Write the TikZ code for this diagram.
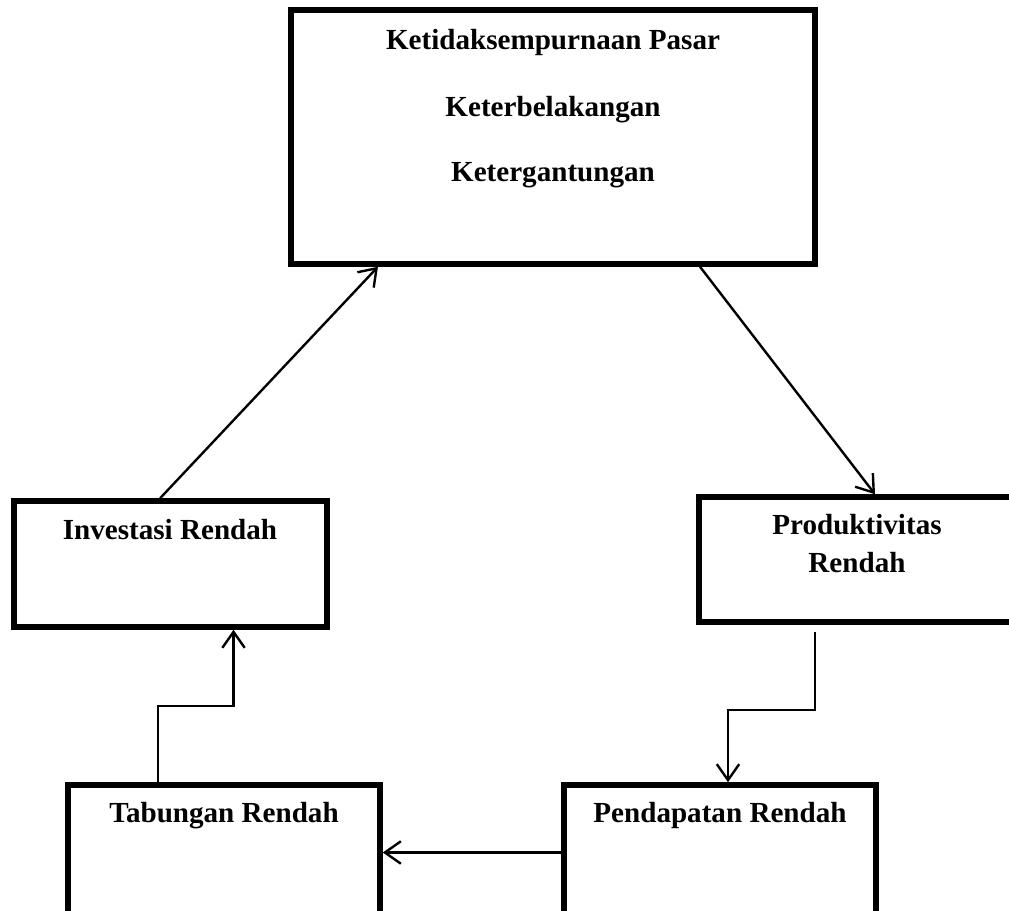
\documentclass[tikz,border=0pt]{standalone}
\usepackage{fontspec}
\setmainfont{Liberation Serif}
\usetikzlibrary{arrows.meta}
\begin{document}
\begin{tikzpicture}[x=0.025cm,y=-0.025cm,
    box/.style={draw,line width=3.9pt,rectangle,inner sep=0pt},
    txt/.style={font=\fontsize{20.7}{24}\selectfont\bfseries,anchor=base,inner sep=0pt},
    conn/.style={line width=1.7pt,-{Straight Barb[length=0.4cm,width=0.56cm]}}]
      \useasboundingbox (0,0) rectangle (1009,911);
      \node[box,minimum width=13.1cm,minimum height=6.35cm] (pasar) at (553,137) {};
      \node[box,minimum width=7.825cm,minimum height=3.15cm] (investasi) at (170.5,564) {};
      \node[box,minimum width=7.9cm,minimum height=3.125cm] (produktivitas) at (857,559.5) {};
      \node[box,minimum width=7.8cm,minimum height=3.375cm] (tabungan) at (224,852.5) {};
      \node[box,minimum width=7.8cm,minimum height=3.375cm] (pendapatan) at (720,852.5) {};
      \draw
        (553,50) node[txt] (pasar1){Ketidaksempurnaan Pasar}
        (553,117) node[txt] (pasar2){Keterbelakangan}
        (553,182) node[txt] (pasar3){Ketergantungan}
        (170,540) node[txt] (investasi1){Investasi Rendah}
        (857,535) node[txt] (produktivitas1){Produktivitas}
        (857,573) node[txt] (produktivitas2){Rendah}
        (224,823) node[txt] (tabungan1){Tabungan Rendah}
        (720,823) node[txt] (pendapatan1){Pendapatan Rendah};
      \begin{scope}[conn]
        \draw ([xshift=-0.26cm]investasi.north) to ([xshift=-4.375cm]pasar.south);
        \draw ([xshift=3.675cm]pasar.south) to ([xshift=0.45cm]produktivitas.north);
        \draw ([xshift=-1.05cm,yshift=-0.175cm]produktivitas.south) -- ++(0,-1.95cm) -| ([xshift=0.2cm]pendapatan.north);
        \draw (pendapatan.west) to (tabungan.east);
        \draw ([xshift=-1.65cm]tabungan.north) -- ++(0,1.9cm) -| ([xshift=1.575cm]investasi.south);
      \end{scope}
    \end{tikzpicture}
\end{document}
